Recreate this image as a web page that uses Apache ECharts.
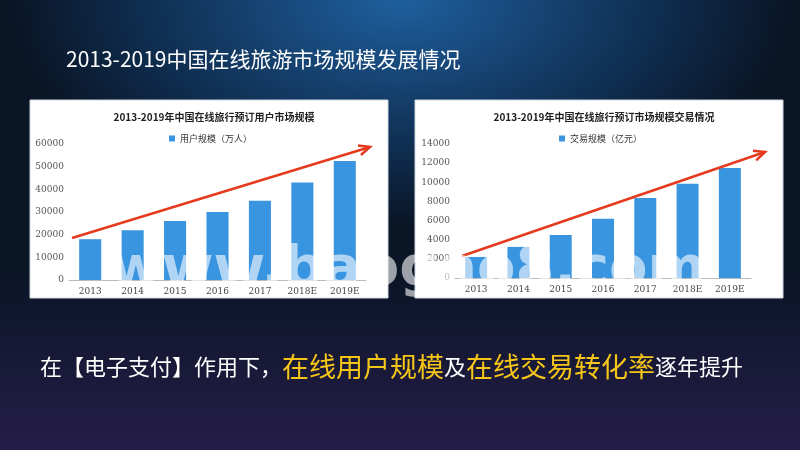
<!DOCTYPE html>
<html><head><meta charset="utf-8">
<script src="https://cdn.jsdelivr.net/npm/echarts@6/dist/echarts.min.js"></script>
<style>
html,body{margin:0;padding:0;width:800px;height:450px;overflow:hidden;
background: radial-gradient(ellipse 520px 300px at 400px 0px, #1f5f9e 0%, #103257 45%, #0a1526 75%), #0a1526;}
#c{width:800px;height:450px;}
.bot{position:absolute;left:0;top:0;width:800px;height:450px;pointer-events:none;
background: linear-gradient(to bottom, rgba(0,0,0,0) 60%, rgba(60,35,100,0.55) 100%);}
</style></head><body>
<div class="bot"></div>
<div id="c" style="position:absolute;left:0;top:0"></div>
<script>
const categories = ['2013','2014','2015','2016','2017','2018E','2019E'];
const userValues = [18000, 22000, 26000, 30000, 35000, 43000, 52500];
const tradeValues = [2200, 3250, 4500, 6200, 8350, 9850, 11500];
const userTicks = [0,10000,20000,30000,40000,50000,60000];
const tradeTicks = [0,2000,4000,6000,8000,10000,12000,14000];

const chart = echarts.init(document.getElementById('c'));
const serif = 'DejaVu Serif';
const axisCommon = (max, interval) => ({
  type:'value', min:0, max, interval,
  axisLine:{show:false}, axisTick:{show:false}, splitLine:{show:false},
  axisLabel:{color:'#555', fontSize:9, fontFamily:serif, margin:5, formatter:v=>String(v)}
});
const catAxis = (gi) => ({
  type:'category', gridIndex:gi, data:categories,
  axisLine:{lineStyle:{color:'#bbb'}}, axisTick:{show:false},
  axisLabel:{color:'#444', fontSize:9, fontFamily:serif, margin:7}
});
function arrow(x1,y1,x2,y2){
  const a=Math.atan2(y2-y1,x2-x1), L=11, w=5;
  const bx=x2-L*Math.cos(a), by=y2-L*Math.sin(a);
  return [
    {type:'line', shape:{x1,y1,x2,y2}, style:{stroke:'#e53a1e', lineWidth:2.5}, z:10},
    {type:'polyline', shape:{points:[[bx+w*Math.sin(a),by-w*Math.cos(a)],[x2,y2],[bx-w*Math.sin(a),by+w*Math.cos(a)]]},
     style:{stroke:'#e53a1e', lineWidth:2.5, fill:null}, z:10}
  ];
}
chart.setOption({
  backgroundColor:'transparent',
  title:[
    {text:'2013-2019中国在线旅游市场规模发展情况', left:61, top:44,
     textStyle:{color:'#fff', fontSize:21, fontWeight:'normal', fontFamily:'Noto Sans CJK SC'}},
    {text:'2013-2019年中国在线旅行预订用户市场规模', left:209, top:107, textAlign:'center',
     textStyle:{color:'#222', fontSize:10, fontWeight:'bold', fontFamily:'Noto Sans CJK SC'}},
    {text:'2013-2019年中国在线旅行预订市场规模交易情况', left:599, top:107, textAlign:'center',
     textStyle:{color:'#222', fontSize:10, fontWeight:'bold', fontFamily:'Noto Sans CJK SC'}}
  ],
  legend:[
    {data:['用户规模（万人）'], left:164, top:129, itemWidth:6, itemHeight:6, icon:'rect', itemGap:2,
     textStyle:{fontSize:9, color:'#333', fontFamily:'Noto Sans CJK SC'}},
    {data:['交易规模（亿元）'], left:554, top:129, itemWidth:6, itemHeight:6, icon:'rect',
     textStyle:{fontSize:9, color:'#333', fontFamily:'Noto Sans CJK SC'}}
  ],
  grid:[
    {left:69, right:800-366, top:144, bottom:450-280},
    {left:455, right:800-751, top:144, bottom:450-278}
  ],
  xAxis:[catAxis(0), catAxis(1)],
  yAxis:[Object.assign(axisCommon(60000,10000),{gridIndex:0}), Object.assign(axisCommon(14000,2000),{gridIndex:1})],
  series:[
    {name:'用户规模（万人）', type:'bar', xAxisIndex:0, yAxisIndex:0, data:userValues, barWidth:'52%',
     itemStyle:{color:'#3a95e0'}},
    {name:'交易规模（亿元）', type:'bar', xAxisIndex:1, yAxisIndex:1, data:tradeValues, barWidth:'52%',
     itemStyle:{color:'#3a95e0'}}
  ],
  graphic:[
    {type:'rect', shape:{x:30,y:100,width:358,height:198}, style:{fill:'#fff', stroke:'#cfd6de', lineWidth:1}, z:-10},
    {type:'rect', shape:{x:415,y:100,width:368,height:198}, style:{fill:'#fff', stroke:'#cfd6de', lineWidth:1}, z:-10},
    ...arrow(72,238,370,147),
    ...arrow(462,256,765,152),
    {type:'text', x:110, y:242, z:20, style:{text:'www.baogao8.com', fill:'rgba(255,255,255,0.6)',
      font:'bold 56px "DejaVu Sans"'}},
    {type:'text', z:20, x:40, y:353, style:{
      text:'{w|在【电子支付】作用下，}{y|在线用户规模}{w|及}{y|在线交易转化率}{w|逐年提升}',
      rich:{w:{fill:'#fff', fontSize:22, fontFamily:'Noto Sans CJK SC'},
            y:{fill:'#f5c518', fontSize:27, fontFamily:'Noto Sans CJK SC'}}}}
  ]
});
</script></body></html>
